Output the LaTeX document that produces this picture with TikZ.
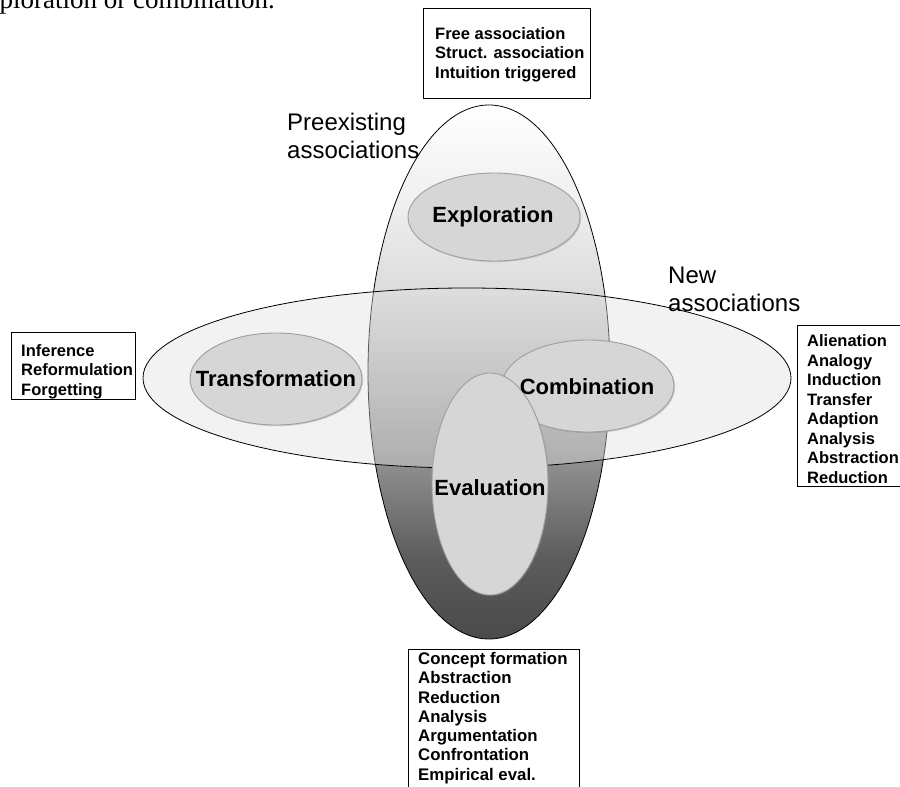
\documentclass[tikz,border=0pt]{standalone}
\usepackage{fontspec}
\setmainfont{Liberation Sans}
\newfontfamily\fragserif{Liberation Serif}
\usetikzlibrary{shapes.geometric,shadows}
\definecolor{gA}{gray}{1.0}
\definecolor{gB}{gray}{0.94}
\definecolor{gC}{gray}{0.86}
\definecolor{gD}{gray}{0.55}
\definecolor{gE}{gray}{0.36}
\definecolor{gF}{gray}{0.29}
\pgfdeclareverticalshading{vgrad}{100bp}{color(0bp)=(gF); color(25bp)=(gF); color(32.5bp)=(gE); color(41bp)=(gD); color(57.5bp)=(gC); color(66bp)=(gB); color(75bp)=(gA); color(100bp)=(gA)}
\begin{document}
\begin{tikzpicture}[x=1pt,y=-1pt,
  oval/.style={ellipse, inner sep=0pt, outer sep=0pt},
  stage/.style={oval, fill=black!16, draw=black!38, line width=0.9pt,
    drop shadow={opacity=0.3, shadow xshift=1.2pt, shadow yshift=-1.2pt}},
  stagelabel/.style={font=\fontsize{22}{24}\selectfont\bfseries, inner sep=0pt},
  listbox/.style={draw=black, line width=0.8pt, inner sep=0pt, anchor=north west},
  listtext/.style={font=\fontsize{16.5}{19.5}\selectfont\bfseries, align=left, inner sep=0pt, anchor=west},
  axislabel/.style={font=\fontsize{24}{28}\selectfont, align=left, inner sep=0pt, anchor=west}]
\useasboundingbox (0,0) rectangle (900,787);
\path[fill=white] (0,0) rectangle (900,787);
\begin{scope}
\clip (0,0) rectangle (900,787);
% fragment of caption text at top
\node[anchor=base east, inner sep=0pt, font=\fragserif\fontsize{27}{30}\selectfont] (frag) at (275,8.5) {exploration or combination.};
% big ellipses
\node[oval, minimum width=242pt, minimum height=534pt, shading=vgrad, draw=black, line width=0.8pt] (vert) at (489,372) {};
\node[oval, minimum width=648pt, minimum height=180pt, draw=black, line width=0.8pt, fill=black!12, fill opacity=0.4] (horiz) at (467,378) {};
% stage ellipses
\node[stage, minimum width=172pt, minimum height=88pt] (explo) at (494,217) {};
\node[stage, minimum width=172pt, minimum height=92pt] (trans) at (276,379) {};
\node[stage, minimum width=172pt, minimum height=92pt] (combi) at (588,386) {};
\node[stage, minimum width=116pt, minimum height=222pt] (evalu) at (490,484) {};
\node[stagelabel] (explot) at (493,217) {Exploration};
\node[stagelabel] (transt) at (276,379) {Transformation};
\node[stagelabel] (combit) at (587,387) {Combination};
\node[stagelabel] (evalut) at (490,488) {Evaluation};
% axis labels
\node[axislabel] (pre) at (287,136) {Preexisting\\associations};
\node[axislabel] (new) at (668,289) {New\\associations};
% list boxes
\node[listbox, minimum width=167pt, minimum height=90pt] (topbox) at (423,8) {};
\node[listtext] (toptext) at (435,54.5) {Free association\\Struct. association\\Intuition triggered};
\node[listbox, minimum width=124pt, minimum height=67pt] (leftbox) at (11,332) {};
\node[listtext] (lefttext) at (21,371.5) {Inference\\Reformulation\\Forgetting};
\node[listbox, minimum width=115pt, minimum height=161pt] (rightbox) at (797,325) {};
\node[listtext] (righttext) at (807,409) {Alienation\\Analogy\\Induction\\Transfer\\Adaption\\Analysis\\Abstraction\\Reduction};
\node[listbox, minimum width=171pt, minimum height=160pt] (botbox) at (408,649) {};
\node[listtext, font=\fontsize{16.8}{19.3}\selectfont\bfseries] (bottext) at (418,718) {Concept formation\\Abstraction\\Reduction\\Analysis\\Argumentation\\Confrontation\\Empirical eval.};
\end{scope}
\end{tikzpicture}
\end{document}
